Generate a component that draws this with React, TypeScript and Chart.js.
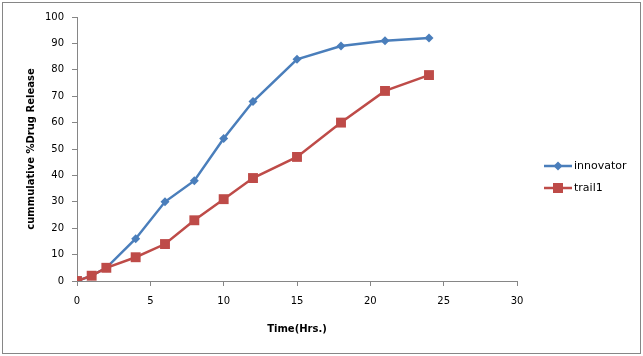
import React, { useEffect, useRef } from "react";
import { Chart, registerables } from "chart.js";

Chart.register(...registerables);

const innovatorTime = [0, 1, 2, 4, 6, 8, 10, 12, 15, 18, 21, 24];
const innovatorRelease = [0, 2, 5, 16, 30, 38, 54, 68, 84, 89, 91, 92];
const trailTime = [0, 1, 2, 4, 6, 8, 10, 12, 15, 18, 21, 24];
const trailRelease = [0, 2, 5, 9, 14, 23, 31, 39, 47, 60, 72, 78];
const seriesNames = ["innovator", "trail1"];
const xTitle = "Time(Hrs.)";
const yTitle = "cummulative %Drug Release";

const BLUE = "#4A7EBB";
const RED = "#BE4B48";
const AXIS = "#868686";
const FONT = "'DejaVu Sans', Verdana, sans-serif";

const legendPlugin = {
  id: "customLegend",
  beforeDraw(chart: any) {
    const ctx = chart.ctx;
    ctx.save();
    ctx.fillStyle = "#ffffff";
    ctx.fillRect(0, 0, chart.width, chart.height);
    ctx.strokeStyle = AXIS;
    ctx.lineWidth = 1;
    ctx.strokeRect(2.5, 2.5, chart.width - 5, chart.height - 5);
    ctx.restore();
  },
  afterDraw(chart: any) {
    const ctx = chart.ctx;
    const area = chart.chartArea;
    const x0 = area.right + 27;
    const mid = (area.top + area.bottom) / 2;
    const rows = [mid + 17, mid + 39];
    ctx.save();
    chart.data.datasets.forEach((ds: any, i: number) => {
      const y = rows[i];
      ctx.strokeStyle = ds.borderColor;
      ctx.lineWidth = 2.5;
      ctx.beginPath();
      ctx.moveTo(x0, y);
      ctx.lineTo(x0 + 28, y);
      ctx.stroke();
      ctx.fillStyle = ds.backgroundColor;
      const cx = x0 + 14;
      ctx.beginPath();
      if (ds.pointStyle === "rectRot") {
        const r = 4.5;
        ctx.moveTo(cx - r, y);
        ctx.lineTo(cx, y - r);
        ctx.lineTo(cx + r, y);
        ctx.lineTo(cx, y + r);
        ctx.closePath();
      } else {
        ctx.rect(cx - 5, y - 5, 10, 10);
      }
      ctx.fill();
      ctx.fillStyle = "#000";
      ctx.font = "11px " + FONT;
      ctx.textAlign = "left";
      ctx.textBaseline = "middle";
      ctx.fillText(ds.label, x0 + 30, y);
    });
    ctx.restore();
  },
};

export default function App() {
  const ref = useRef<HTMLCanvasElement | null>(null);
  useEffect(() => {
    if (!ref.current) return;
    const chart = new Chart(ref.current, {
      type: "scatter",
      data: {
        datasets: [
          {
            label: seriesNames[0],
            data: innovatorTime.map((t, i) => ({ x: t, y: innovatorRelease[i] })),
            showLine: true,
            borderColor: BLUE,
            backgroundColor: BLUE,
            borderWidth: 2.5,
            pointStyle: "rectRot",
            pointRadius: 4.5,
            pointBorderWidth: 0,
            order: 2,
          },
          {
            label: seriesNames[1],
            data: trailTime.map((t, i) => ({ x: t, y: trailRelease[i] })),
            showLine: true,
            borderColor: RED,
            backgroundColor: RED,
            borderWidth: 2.5,
            pointStyle: "rect",
            pointRadius: 7,
            pointBorderWidth: 0,
            order: 1,
          },
        ],
      },
      options: {
        animation: false,
        responsive: false,
        layout: { padding: { left: 2, right: 126, top: 17, bottom: 2 } },
        plugins: { legend: { display: false }, tooltip: { enabled: false } },
        scales: {
          x: {
            type: "linear",
            min: 0,
            max: 30,
            ticks: { stepSize: 5, color: "#000", font: { family: FONT, size: 10 }, padding: 9 },
            grid: { drawOnChartArea: false, drawTicks: true, tickLength: 5, color: AXIS },
            border: { color: AXIS, width: 1 },
            title: {
              display: true,
              text: xTitle,
              color: "#000",
              font: { family: FONT, size: 10, weight: "bold" },
              padding: { top: 0, bottom: 19 },
            },
            afterFit(scale: any) {
              scale.height = 73;
            },
          },
          y: {
            min: 0,
            max: 100,
            ticks: { stepSize: 10, color: "#000", font: { family: FONT, size: 10 }, padding: 8 },
            grid: { drawOnChartArea: false, drawTicks: true, tickLength: 5, color: AXIS },
            border: { color: AXIS, width: 1 },
            title: {
              display: true,
              text: yTitle,
              color: "#000",
              font: { family: FONT, size: 10, weight: "bold" },
              padding: { top: 23, bottom: 0 },
            },
            afterFit(scale: any) {
              scale.width = 75;
            },
          },
        },
      },
      plugins: [legendPlugin],
    } as any);
    return () => chart.destroy();
  }, []);
  return (
    <div style={{ position: "fixed", left: 0, top: 0, width: 643, height: 356 }}>
      <canvas ref={ref} width={643} height={356} />
    </div>
  );
}
